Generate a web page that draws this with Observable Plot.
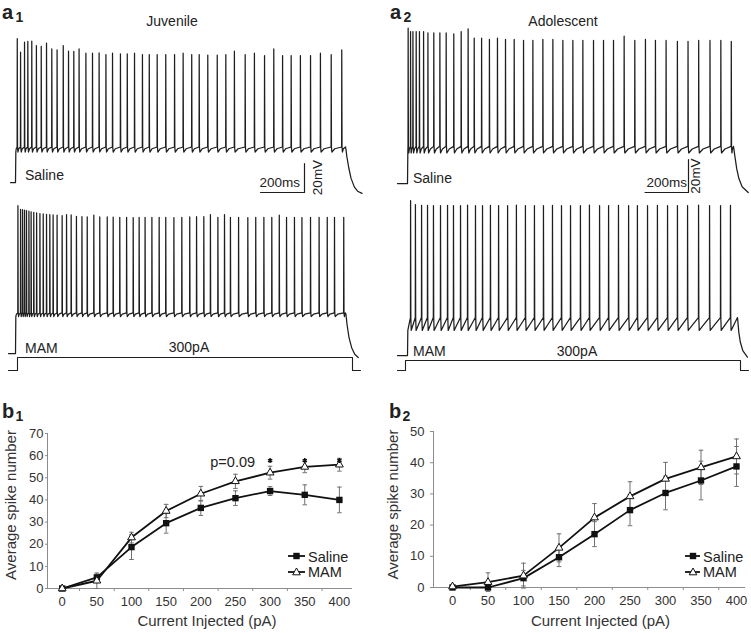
<!DOCTYPE html>
<html><head><meta charset="utf-8">
<script src="https://cdn.jsdelivr.net/npm/d3@7"></script>
<script src="https://cdn.jsdelivr.net/npm/@observablehq/plot@0.6"></script>
<style>
body{margin:0;background:#fff;}
#fig{position:relative;width:751px;height:633px;overflow:hidden;background:#fff;}
#fig svg{overflow:visible;}
</style></head><body><div id="fig"></div>
<script>
// ---------------- DATA ----------------
const groups = ["Juvenile", "Adolescent"];
const conditions = ["Saline", "MAM"];
const panelLetters = ["a", "b"];
const stepPA = 300;            // injected current (pA)
const stepMs = 1500;           // step duration (ms)
const scaleBarMs = 200;
const scaleBarMv = 20;
const restMv = -70;

// spike times (ms from step onset) and peaks (mV)
const a1SalineSpikes = [8, 23, 41, 56, 74, 95, 117, 141, 165, 189, 217, 241, 265, 289, 320, 350, 380, 411, 441, 477, 508, 541, 577, 608, 644, 683, 723, 762, 801, 835, 874, 917, 956, 995, 1044, 1086, 1132, 1174, 1214, 1253, 1295, 1341, 1386, 1435, 1483];
const a1SalinePeaks = [29.2, 19.9, 26.8, 27.3, 27.5, 24.5, 24, 26.1, 22.2, 21.5, 24.5, 20.6, 20.4, 22.2, 19.2, 19.2, 19.4, 18.3, 19.2, 18.8, 18.8, 19.2, 18.3, 18.3, 18.3, 18.3, 18.3, 19.2, 18.3, 18.3, 17.9, 17.9, 18.3, 20.6, 18.3, 19.2, 17.6, 22.2, 17.6, 17.6, 17.6, 17.6, 19.2, 18.3, 21.5];
const a1MamSpikes = [11, 23, 32, 41, 50, 61, 71, 83, 96, 111, 126, 141, 156, 171, 189, 212, 232, 253, 277, 302, 326, 356, 383, 417, 444, 474, 505, 535, 562, 589, 620, 653, 683, 720, 756, 792, 823, 856, 886, 920, 950, 977, 1014, 1056, 1092, 1129, 1165, 1199, 1232, 1268, 1302, 1341, 1380, 1417, 1450, 1492];
const a1MamPeaks = [32, 29.5, 29.2, 29, 28.6, 28.2, 27.8, 27.4, 27, 26.6, 26.3, 26, 25.8, 25.6, 25.4, 25.2, 25.8, 25.6, 24.6, 24.4, 24.3, 25.4, 24.2, 24.2, 24.1, 24, 24, 23.8, 24, 24, 24, 24, 24, 23.8, 24, 24.2, 24.4, 24.5, 25.8, 24, 25.8, 24, 24, 23.8, 24, 24, 24, 25.4, 24, 24, 23.8, 24, 24, 24, 24, 24];
const a2SalineSpikes = [3, 14, 25, 40, 55, 74, 94, 121, 149, 178, 213, 247, 279, 307, 341, 377, 414, 451, 491, 534, 577, 623, 669, 715, 761, 807, 856, 902, 948, 997, 1046, 1095, 1141, 1190, 1242, 1291, 1340, 1392, 1442, 1490];
const a2SalinePeaks = [24.1, 22.1, 22.1, 22.1, 22.1, 22.1, 21.3, 21.3, 21.3, 21.3, 20.7, 22.1, 23.7, 18.1, 18.1, 17.3, 18.1, 17.3, 17.3, 16.7, 16.7, 17.3, 17.3, 16.7, 16.7, 16.7, 16.7, 16.7, 16.7, 19.3, 16.7, 17.3, 16.7, 16.7, 16.1, 16.1, 16.7, 16.7, 16.7, 16.1];
const a2MamSpikes = [14, 36, 64, 91, 118, 150, 182, 209, 241, 273, 309, 341, 377, 414, 455, 495, 536, 577, 618, 659, 700, 741, 786, 827, 873, 914, 959, 1005, 1045, 1091, 1136, 1182, 1227, 1273, 1323, 1373, 1423, 1468];
const a2MamPeaks = [23.9, 21.5, 21, 21, 20.9, 20.9, 21, 20.9, 20.9, 21.2, 20.9, 20.9, 21, 20.9, 20.9, 21.2, 20.9, 20.9, 20.9, 21, 20.9, 20.9, 20.9, 21.2, 20.9, 20.9, 21, 20.9, 20.9, 20.9, 21, 20.9, 20.9, 20.9, 21.2, 20.9, 20.9, 21];

// inter-spike levels (mV): [trough, threshold]
const a1SalineLevels = [-49, -45.5];
const a1MamLevels = [-44.5, -42];
const a2SalineLevels = [-51.5, -47.5];
const a2MamLevels = [-54.8, -47];

// repolarisation after the step ends: [ms, mV]
const a1SalineDecay = [[1502, -47], [1506, -52], [1515, -60], [1525, -67], [1540, -73], [1555, -76], [1575, -77.5]];
const a1MamDecay = [[1502, -43], [1507, -50], [1516, -59], [1528, -66], [1542, -70.5], [1558, -72.8]];
const a2SalineDecay = [[1502, -49], [1506, -53], [1515, -61], [1525, -67], [1540, -72], [1568, -75.5]];
const a2MamDecay = [[1502, -50], [1506, -56], [1513, -62], [1524, -67], [1545, -71]];

// input-output curves
const currents = [0, 50, 100, 150, 200, 250, 300, 350, 400];
const b1Saline = [0, 5, 18.7, 29.5, 36.4, 40.8, 44, 42.3, 40];
const b1SalineErr = [0.4, 1.5, 5.6, 4.5, 3.4, 3.3, 2, 4.5, 5.8];
const b1Mam = [0, 3.5, 23, 35, 42.8, 48.4, 52.3, 54.9, 55.9];
const b1MamErr = [0.4, 3.5, 2.4, 3, 3.3, 3.2, 2.9, 2.6, 2.9];
const b2Saline = [0, 0, 3, 9.7, 17.1, 24.8, 30.3, 34.3, 38.8];
const b2SalineErr = [0.3, 0.5, 2.5, 3, 4, 5, 5.4, 6.2, 6.4];
const b2Mam = [0.3, 1.7, 3.8, 12.7, 22.4, 29.2, 34.8, 38.5, 42];
const b2MamErr = [0.3, 3, 4, 4.5, 4.5, 4.7, 5.3, 5.5, 5.6];
const b1SigCurrents = [300, 350, 400];
const b1SigLevel = 57.8;
const b1Note = {label: "p=0.09", c: 246, v: 57};
const yTitle = "Average spike number";
const xTitle = "Current Injected (pA)";

// ---------------- LAYOUT / STYLE ----------------
const FONT = '"Liberation Sans", Arial, Helvetica, sans-serif';
const INK = "#1e1e1e";
const AXIS = "#8c8c8c";
const ERR = "#707070";
const fig = document.getElementById("fig");
function place(node, left, top) {
  node.style.position = "absolute";
  node.style.left = left + "px";
  node.style.top = top + "px";
  fig.appendChild(node);
}
const xAt = (L, p) => (p - L.x0) / L.kx;
const yAt = (L, p) => L.v0 + (L.y0 - p) / L.ky;

const LA1S = {left: 8, right: 362, top: 26, bottom: 200, x0: 15, kx: 0.22, y0: 182, v0: restMv, ky: 1 / 0.69, startPx: 10, bar: [304, 192]};
const LA1M = {left: 8, right: 362, top: 198, bottom: 362, x0: 15, kx: 0.22, y0: 353, v0: restMv, ky: 1 / 0.69, startPx: 8};
const LA2S = {left: 396, right: 751, top: 20, bottom: 200, x0: 407, kx: 0.2173, y0: 183, v0: restMv, ky: 1 / 0.606, startPx: 397, bar: [688, 192]};
const LA2M = {left: 396, right: 751, top: 198, bottom: 362, x0: 407, kx: 0.22, y0: 355, v0: restMv, ky: 1 / 0.606, startPx: 397};
const LC1 = {left: 6, right: 362, top: 350, bottom: 376, x0: 17, kx: 335 / stepMs, y0: 370, y1: 357, fromPx: 8, toPx: 360};
const LC2 = {left: 394, right: 751, top: 350, bottom: 376, x0: 405, kx: 335 / stepMs, y0: 370, y1: 360, fromPx: 397, toPx: 748};

// ---------------- TRACES ----------------
function buildTrace(spikes, peaks, levels, decay, L, shape) {
  const [trough, thr] = levels;
  const pts = [{t: xAt(L, L.startPx), v: restMv}, {t: 0, v: restMv}, {t: 1.5, v: trough}];
  const ramp = (a, b) => {
    pts.push({t: a + shape[0] * (b - a), v: trough + shape[1] * (thr - trough)});
    pts.push({t: b, v: thr});
  };
  let prev = 1.5;
  spikes.forEach((s, i) => {
    ramp(prev, s - 0.6);
    pts.push({t: s, v: peaks[i]});
    pts.push({t: s + 1.2, v: thr});
    pts.push({t: s + 3, v: trough});
    prev = s + 3;
  });
  ramp(prev, stepMs);
  decay.forEach(([t, v]) => pts.push({t, v}));
  return pts;
}

function tracePlot(data, L) {
  const marks = [Plot.line(data, {x: "t", y: "v", stroke: INK, strokeWidth: 1.25})];
  if (L.bar) {
    const ct = xAt(L, L.bar[0]), cv = yAt(L, L.bar[1]);
    marks.push(Plot.line([{t: ct - scaleBarMs, v: cv}, {t: ct, v: cv}, {t: ct, v: cv + scaleBarMv}],
      {x: "t", y: "v", stroke: INK, strokeWidth: 1.2, curve: "linear"}));
  }
  return Plot.plot({
    width: L.right - L.left, height: L.bottom - L.top, margin: 0,
    x: {domain: [xAt(L, L.left), xAt(L, L.right)], axis: null},
    y: {domain: [yAt(L, L.bottom), yAt(L, L.top)], axis: null},
    style: {background: "transparent", overflow: "visible"},
    marks
  });
}

function cmdPlot(L) {
  const ky = (L.y0 - L.y1) / stepPA;
  const data = [
    {t: xAt(L, L.fromPx), i: 0}, {t: 0, i: 0}, {t: 0, i: stepPA},
    {t: stepMs, i: stepPA}, {t: stepMs, i: 0}, {t: xAt(L, L.toPx), i: 0}
  ];
  return Plot.plot({
    width: L.right - L.left, height: L.bottom - L.top, margin: 0,
    x: {domain: [xAt(L, L.left), xAt(L, L.right)], axis: null},
    y: {domain: [(L.y0 - L.bottom) / ky, (L.y0 - L.top) / ky], axis: null},
    style: {background: "transparent", overflow: "visible"},
    marks: [Plot.line(data, {x: "t", y: "i", stroke: INK, strokeWidth: 1.1})]
  });
}

const traces = [
  [buildTrace(a1SalineSpikes, a1SalinePeaks, a1SalineLevels, a1SalineDecay, LA1S, [0.3, 0.65]), LA1S],
  [buildTrace(a1MamSpikes, a1MamPeaks, a1MamLevels, a1MamDecay, LA1M, [0.3, 0.65]), LA1M],
  [buildTrace(a2SalineSpikes, a2SalinePeaks, a2SalineLevels, a2SalineDecay, LA2S, [0.35, 0.6]), LA2S],
  [buildTrace(a2MamSpikes, a2MamPeaks, a2MamLevels, a2MamDecay, LA2M, [0.5, 0.5]), LA2M]
];
for (const [d, L] of traces) place(tracePlot(d, L), L.left, L.top);
place(cmdPlot(LC1), LC1.left, LC1.top);
place(cmdPlot(LC2), LC2.left, LC2.top);

// ---------------- INPUT-OUTPUT CURVES ----------------
const capSymbol = {draw(ctx, size) { const w = Math.sqrt(size); ctx.moveTo(-w / 2, 0); ctx.lineTo(w / 2, 0); }};

function bPlot(sal, salErr, mam, mamErr, L, extras) {
  const long = [
    ...currents.map((c, i) => ({c, g: conditions[0], v: sal[i], e: salErr[i]})),
    ...currents.map((c, i) => ({c, g: conditions[1], v: mam[i], e: mamErr[i]}))
  ];
  const mids = d3.pairs(currents, (a, b) => (a + b) / 2);
  const xd = [(L.ml - L.x0) / L.kx, (L.w - L.mr - L.x0) / L.kx];
  return Plot.plot({
    width: L.w, height: L.h,
    marginLeft: L.ml, marginRight: L.mr, marginTop: L.mt, marginBottom: L.mb,
    style: {background: "transparent", fontFamily: FONT, fontSize: "13px", color: "#333", overflow: "visible"},
    x: {domain: xd}, y: {domain: [0, L.ymax]},
    marks: [
      Plot.axisY(d3.range(0, L.ymax + 1, 10), {tickSize: L.yTick, tickPadding: L.yPad, label: null, fontSize: 13, stroke: AXIS, fill: "#333"}),
      Plot.axisX(currents, {tickSize: 0, tickPadding: 8, label: null, fontSize: 13, fill: "#333"}),
      Plot.axisX(mids, {tickSize: 3, tickFormat: () => "", label: null, stroke: AXIS}),
      Plot.ruleY([0], {stroke: AXIS}),
      Plot.ruleX([xd[0]], {stroke: AXIS}),
      Plot.text([yTitle], {text: d => d, frameAnchor: "left", textAnchor: "middle", lineAnchor: "middle", rotate: -90, dx: L.ytDx, dy: L.ytDy, fontSize: 15, fill: "#333"}),
      Plot.text([xTitle], {text: d => d, frameAnchor: "bottom", textAnchor: "middle", lineAnchor: "middle", dx: L.xtDx, dy: L.xtDy, fontSize: 15, fill: "#333"}),
      Plot.ruleX(long, {x: "c", y1: d => d.v - d.e, y2: d => d.v + d.e, stroke: ERR, strokeWidth: 1}),
      Plot.dot(long, {x: "c", y: d => d.v + d.e, symbol: capSymbol, r: 2.6, fill: "none", stroke: ERR, strokeWidth: 1}),
      Plot.dot(long, {x: "c", y: d => d.v - d.e, symbol: capSymbol, r: 2.6, fill: "none", stroke: ERR, strokeWidth: 1}),
      Plot.line(long, {x: "c", y: "v", z: "g", stroke: "#111", strokeWidth: 1.8}),
      Plot.dot(long.filter(d => d.g === conditions[0]), {x: "c", y: "v", symbol: "square", fill: "#111", r: 3.6}),
      Plot.dot(long.filter(d => d.g === conditions[1]), {x: "c", y: "v", symbol: "triangle", fill: "white", stroke: "#111", strokeWidth: 1, r: 2.9}),
      ...extras
    ]
  });
}

const LB1 = {left: 0, top: 395, w: 375, h: 238, ml: 47, mr: 23, mt: 38, mb: 45, x0: 61.7, kx: 0.693, ymax: 70, yTick: 2, yPad: 2, ytDx: -36, ytDy: -6, xtDx: 7, xtDy: 33};
const LB2 = {left: 375, top: 395, w: 376, h: 238, ml: 58, mr: 6, mt: 36, mb: 46, x0: 77, kx: 0.71, ymax: 50, yTick: 3, yPad: 6, ytDx: -40, ytDy: -5, xtDx: 11, xtDy: 34};

const sig = b1SigCurrents.map(c => ({c, v: b1SigLevel}));
place(bPlot(b1Saline, b1SalineErr, b1Mam, b1MamErr, LB1, [
  Plot.dot(sig, {x: "c", y: "v", symbol: "asterisk", r: 2.3, stroke: "#111", strokeWidth: 1.5}),
  Plot.text([b1Note], {x: "c", y: "v", text: "label", fontSize: 14.5, fill: "#222"})
]), LB1.left, LB1.top);
place(bPlot(b2Saline, b2SalineErr, b2Mam, b2MamErr, LB2, []), LB2.left, LB2.top);

// ---------------- LABELS / LEGENDS ----------------
const sq = (x, y) => `<rect x="${x - 3.2}" y="${y - 3.2}" width="6.4" height="6.4" fill="#111"/>`;
const tri = (x, y) => `<path d="M${x},${y - 4} L${x + 3.8},${y + 2.8} L${x - 3.8},${y + 2.8} Z" fill="white" stroke="#111" stroke-width="1"/>`;
const legend = (x0, x1, mx, tx) => `
  <line x1="${x0}" x2="${x1}" y1="556" y2="556" stroke="#111" stroke-width="1.8"/>${sq(mx, 556)}
  <text x="${tx}" y="561.5" font-size="14.5">${conditions[0]}</text>
  <line x1="${x0}" x2="${x1}" y1="572" y2="572" stroke="#111" stroke-width="1.8"/>${tri(mx, 572)}
  <text x="${tx}" y="577" font-size="14.5">${conditions[1]}</text>`;
const panel = (letter, n, x, y) => `<text x="${x}" y="${y}" font-size="20" font-weight="bold">${letter}</text><text x="${x + 13.5}" y="${y + 3}" font-size="14" font-weight="bold">${n}</text>`;

const ov = document.createElement("div");
ov.innerHTML = `<svg width="751" height="633" font-family='${FONT}' fill="#222" style="position:absolute;left:0;top:0">
  ${panel(panelLetters[0], 1, 2, 18.5)}
  ${panel(panelLetters[0], 2, 390, 19)}
  ${panel(panelLetters[1], 1, 2, 418)}
  ${panel(panelLetters[1], 2, 389, 418)}
  <text x="172" y="26" font-size="14" text-anchor="middle">${groups[0]}</text>
  <text x="563" y="26" font-size="14" text-anchor="middle">${groups[1]}</text>
  <text x="25" y="180" font-size="14">${conditions[0]}</text>
  <text x="300" y="187" font-size="13.5" text-anchor="end">${scaleBarMs}ms</text>
  <text transform="translate(322,177.5) rotate(-90)" font-size="13.5" text-anchor="middle">${scaleBarMv}mV</text>
  <text x="25" y="353" font-size="14">${conditions[1]}</text>
  <text x="189" y="352" font-size="14" text-anchor="middle">${stepPA}pA</text>
  <text x="413" y="183" font-size="14">${conditions[0]}</text>
  <text x="687" y="187" font-size="13.5" text-anchor="end">${scaleBarMs}ms</text>
  <text transform="translate(700,176) rotate(-90)" font-size="13.5" text-anchor="middle">${scaleBarMv}mV</text>
  <text x="413" y="356" font-size="14">${conditions[1]}</text>
  <text x="577" y="356" font-size="14" text-anchor="middle">${stepPA}pA</text>
  ${legend(288, 305, 296.5, 308)}
  ${legend(685, 700, 693, 703)}
</svg>`;
fig.appendChild(ov.firstElementChild);
</script></body></html>
